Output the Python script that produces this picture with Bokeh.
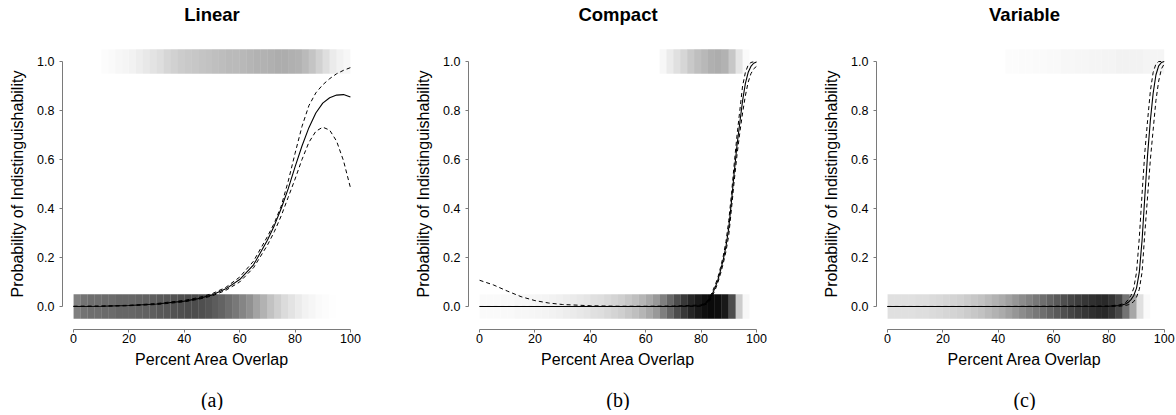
from bokeh.plotting import figure
from bokeh.layouts import row
from bokeh.models import Range1d, FixedTicker, NumeralTickFormatter, Title
from bokeh.embed import file_html
from bokeh.resources import INLINE

# ---------------- data ----------------
titles = ["Linear", "Compact", "Variable"]
captions = ["(a)", "(b)", "(c)"]
x_label = "Percent Area Overlap"
y_label = "Probability of Indistinguishability"
x_ticks = [0, 20, 40, 60, 80, 100]
y_ticks = [0.0, 0.2, 0.4, 0.6, 0.8, 1.0]

# density of the jittered responses (0 = distinguishable, 1 = indistinguishable), per 2.5% bin
bin_start = [i * 2.5 for i in range(40)]
BIN = 2.5
JITTER = 0.05

lin_dens0 = [0.5, 0.55, 0.57, 0.57, 0.58, 0.58, 0.6, 0.6, 0.6, 0.61, 0.62, 0.63, 0.65, 0.66, 0.68, 0.69, 0.7, 0.7, 0.69, 0.67,
             0.64, 0.61, 0.57, 0.53, 0.48, 0.43, 0.36, 0.3, 0.24, 0.19, 0.14, 0.11, 0.08, 0.05, 0.035, 0.02, 0.01, 0.003, 0.0, 0.0]
lin_dens1 = [0.0, 0.0, 0.0, 0.0, 0.01, 0.02, 0.03, 0.04, 0.05, 0.07, 0.09, 0.11, 0.13, 0.16, 0.18, 0.2, 0.21, 0.22, 0.23, 0.24,
             0.25, 0.26, 0.27, 0.27, 0.28, 0.29, 0.3, 0.3, 0.31, 0.32, 0.32, 0.31, 0.3, 0.27, 0.23, 0.18, 0.13, 0.08, 0.05, 0.03]
com_dens0 = [0.02, 0.02, 0.02, 0.025, 0.025, 0.03, 0.03, 0.035, 0.04, 0.045, 0.05, 0.06, 0.07, 0.08, 0.09, 0.1, 0.12, 0.13, 0.15, 0.17,
             0.19, 0.22, 0.25, 0.29, 0.34, 0.4, 0.5, 0.6, 0.7, 0.78, 0.85, 0.9, 0.94, 0.96, 0.95, 0.9, 0.7, 0.2, 0.03, 0.0]
com_dens1 = [0, 0, 0, 0, 0, 0, 0, 0, 0, 0, 0, 0, 0, 0, 0, 0, 0, 0, 0, 0,
             0, 0, 0, 0, 0, 0, 0.03, 0.08, 0.12, 0.16, 0.21, 0.25, 0.28, 0.31, 0.32, 0.3, 0.22, 0.1, 0.02, 0.0]
var_dens0 = [0.12, 0.12, 0.12, 0.12, 0.13, 0.13, 0.14, 0.15, 0.16, 0.17, 0.18, 0.2, 0.22, 0.24, 0.27, 0.3, 0.33, 0.37, 0.41, 0.45,
             0.49, 0.53, 0.57, 0.61, 0.65, 0.69, 0.73, 0.76, 0.79, 0.81, 0.83, 0.84, 0.8, 0.72, 0.55, 0.35, 0.12, 0.02, 0.0, 0.0]
var_dens1 = [0, 0, 0, 0, 0, 0, 0, 0, 0, 0, 0, 0, 0, 0, 0, 0, 0, 0.01, 0.01, 0.015,
             0.015, 0.02, 0.02, 0.025, 0.025, 0.03, 0.03, 0.035, 0.035, 0.04, 0.04, 0.045, 0.045, 0.05, 0.05, 0.05, 0.05, 0.045, 0.04, 0.04]

# fitted curves with confidence bands
lin_x = [0, 10, 20, 30, 40, 45, 50, 55, 60, 65, 70, 72.5, 75, 77.5, 80, 82.5, 85, 87.5, 90, 92.5, 95, 97.5, 100]
lin_fit = [0.0, 0.001, 0.004, 0.010, 0.022, 0.032, 0.047, 0.072, 0.11, 0.17, 0.27, 0.33, 0.40, 0.48, 0.57, 0.655, 0.73, 0.79, 0.83, 0.852, 0.863, 0.865, 0.855]
lin_up = [0.001, 0.002, 0.005, 0.012, 0.025, 0.036, 0.052, 0.078, 0.12, 0.185, 0.285, 0.34, 0.41, 0.51, 0.625, 0.735, 0.82, 0.872, 0.905, 0.93, 0.95, 0.964, 0.975]
lin_lo = [0.0, 0.0005, 0.003, 0.008, 0.019, 0.029, 0.043, 0.066, 0.1, 0.158, 0.25, 0.305, 0.37, 0.445, 0.52, 0.6, 0.67, 0.715, 0.732, 0.72, 0.675, 0.595, 0.485]

com_x = [0, 5, 10, 15, 20, 25, 30, 40, 50, 60, 70, 80, 82, 83, 84, 85, 86, 87, 88, 89, 90, 91, 92, 93, 94, 95, 96, 97, 98, 99, 100]
com_fit = [0.0, 0.0, 0.0, 0.0, 0.0, 0.0, 0.0, 0.0, 0.0, 0.0, 0.0, 0.003, 0.015, 0.028, 0.05, 0.075, 0.105, 0.145, 0.19, 0.245, 0.32, 0.43, 0.55, 0.66, 0.75, 0.84, 0.91, 0.955, 0.98, 0.993, 0.998]
com_up = [0.107, 0.088, 0.063, 0.04, 0.024, 0.014, 0.008, 0.003, 0.001, 0.001, 0.002, 0.006, 0.02, 0.035, 0.058, 0.085, 0.115, 0.158, 0.205, 0.265, 0.35, 0.46, 0.585, 0.7, 0.8, 0.9, 0.955, 0.985, 0.996, 0.999, 1.0]
com_lo = [0.0, 0.0, 0.0, 0.0, 0.0, 0.0, 0.0, 0.0, 0.0, 0.0, 0.0, 0.001, 0.01, 0.021, 0.042, 0.065, 0.095, 0.132, 0.175, 0.225, 0.29, 0.4, 0.515, 0.62, 0.71, 0.79, 0.86, 0.915, 0.95, 0.97, 0.98]

var_x = [0, 20, 40, 60, 80, 84, 86, 87, 88, 89, 90, 91, 92, 93, 94, 95, 96, 97, 98, 99, 100]
var_fit = [0.0, 0.0, 0.0, 0.0, 0.001, 0.004, 0.01, 0.017, 0.028, 0.045, 0.075, 0.14, 0.27, 0.45, 0.62, 0.76, 0.87, 0.945, 0.982, 0.996, 1.0]
var_up = [0.0, 0.0, 0.0, 0.001, 0.002, 0.007, 0.016, 0.028, 0.045, 0.075, 0.14, 0.28, 0.46, 0.63, 0.76, 0.88, 0.955, 0.99, 1.0, 1.0, 1.0]
var_lo = [0.0, 0.0, 0.0, 0.0, 0.0, 0.001, 0.004, 0.007, 0.012, 0.02, 0.038, 0.07, 0.14, 0.3, 0.45, 0.6, 0.72, 0.84, 0.92, 0.97, 0.99]

panels = [
    (lin_dens0, lin_dens1, lin_x, lin_fit, lin_up, lin_lo),
    (com_dens0, com_dens1, com_x, com_fit, com_up, com_lo),
    (var_dens0, var_dens1, var_x, var_fit, var_up, var_lo),
]

# ---------------- layout / style ----------------
SANS = "Liberation Sans"
AXIS_GREY = "#7a7a7a"
PX_PER_UNIT = 2.77
X_START = -4
Y_RANGE = (-0.094, 1.094)
X_END = [104, 104, 103]
BORDER_L = [62, 56, 56]
BORDER_R = [51, 53, 3]


def spacer(size_px):
    # an invisible text line that only reserves room in a side panel
    return Title(text=" ", text_font_size="1px", standoff=size_px, text_color="white")


def make_panel(i):
    dens0, dens1, xs, fit, up, lo = panels[i]
    fw = int(round((X_END[i] - X_START) * PX_PER_UNIT))
    p = figure(x_range=Range1d(X_START, X_END[i]), y_range=Range1d(*Y_RANGE),
               frame_width=fw, frame_height=291,
               min_border_left=BORDER_L[i], min_border_right=BORDER_R[i],
               min_border_top=38, min_border_bottom=0,
               output_backend="svg", toolbar_location=None)
    p.outline_line_color = None
    p.grid.visible = False
    p.background_fill_color = "white"
    p.border_fill_color = "white"

    # heading: a spacer next to the frame, then the bold title above it
    p.add_layout(spacer(11), "above")
    p.add_layout(Title(text=titles[i], align="center", standoff=0,
                       text_font=SANS, text_font_size="18.5px", text_font_style="bold",
                       text_color="black"), "above")

    right = [b + BIN for b in bin_start]
    p.quad(left=bin_start, right=right, bottom=-JITTER, top=JITTER,
           fill_color="black", fill_alpha=dens0, line_color=None)
    p.quad(left=bin_start, right=right, bottom=1 - JITTER, top=1 + JITTER,
           fill_color="black", fill_alpha=dens1, line_color=None)

    p.line(xs, up, line_color="black", line_width=1, line_dash="4 3")
    p.line(xs, lo, line_color="black", line_width=1, line_dash="4 3")
    p.line(xs, fit, line_color="black", line_width=1.1)

    for ax in (p.xaxis[0], p.yaxis[0]):
        ax.axis_line_color = AXIS_GREY
        ax.major_tick_line_color = AXIS_GREY
        ax.major_tick_in = 0
        ax.major_tick_out = 3
        ax.minor_tick_in = 0
        ax.minor_tick_out = 0
        ax.major_label_text_font = SANS
        ax.major_label_text_font_size = "12.5px"
        ax.major_label_text_color = "black"
        ax.axis_label_text_font = SANS
        ax.axis_label_text_font_size = "16px"
        ax.axis_label_text_font_style = "normal"
        ax.axis_label_text_color = "black"

    p.xaxis.bounds = (0, 100)
    p.xaxis.ticker = FixedTicker(ticks=x_ticks)
    p.xaxis.axis_label = x_label
    p.xaxis.major_label_standoff = 1
    p.xaxis.axis_label_standoff = 5

    p.yaxis.bounds = (0, 1)
    p.yaxis.ticker = FixedTicker(ticks=y_ticks)
    p.yaxis.formatter = NumeralTickFormatter(format="0.0")
    p.yaxis.axis_label = y_label
    p.yaxis.major_label_standoff = 5
    p.yaxis.axis_label_standoff = 8

    # sub-figure caption below the axis label
    p.add_layout(spacer(13), "below")
    p.add_layout(Title(text=captions[i], align="center", standoff=0,
                       text_font="Liberation Serif", text_font_size="20px",
                       text_font_style="normal", text_color="black"), "below")
    return p


layout = row(make_panel(0), make_panel(1), make_panel(2))
open("out.html", "w").write(file_html(layout, INLINE))
